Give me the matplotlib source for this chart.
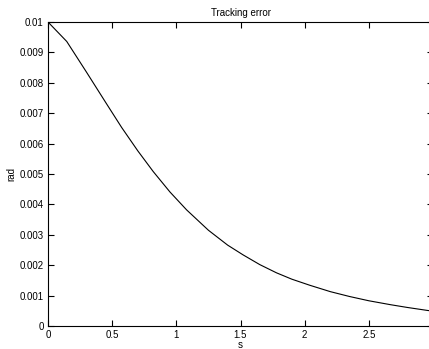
import numpy as np
from matplotlib import pyplot as plt
from matplotlib.ticker import FuncFormatter

# values
t = [0, 0.146, 0.3, 0.45, 0.574, 0.7, 0.82, 0.95, 1.08, 1.25, 1.4, 1.52,
     1.65, 1.78, 1.9, 2.04, 2.2, 2.35, 2.5, 2.67, 2.8, 2.96, 3.0]
err = [0.01000, 0.00936, 0.00835, 0.00735, 0.00653, 0.00576, 0.00508,
       0.00441, 0.00382, 0.00315, 0.00266, 0.00234, 0.00202, 0.00175,
       0.00154, 0.00134, 0.00113, 0.00097, 0.00083, 0.00070, 0.00061,
       0.00051, 0.00049]
xticks = [0, 0.5, 1, 1.5, 2, 2.5, 3]
yticks = [0, 0.001, 0.002, 0.003, 0.004, 0.005, 0.006, 0.007, 0.008, 0.009, 0.01]

plt.rcParams['font.family'] = ['Liberation Sans', 'DejaVu Sans']
plt.rcParams['font.size'] = 7

fig = plt.figure(figsize=(4.29, 3.49), dpi=100)
# right edge of the axes sits just past the picture edge, as in the reference
ax = fig.add_axes([48 / 429, 23 / 349, 385 / 429, 304 / 349])

ax.plot(t, err, color='black', linewidth=0.8)
ax.set_xlim(0, 3)
ax.set_ylim(0, 0.01)
ax.set_xticks(xticks)
ax.set_yticks(yticks)
ax.xaxis.set_major_formatter(FuncFormatter(lambda v, p: '%g' % v))
ax.yaxis.set_major_formatter(FuncFormatter(lambda v, p: '%g' % v))
ax.tick_params(direction='in', length=4, width=0.8, top=True, right=True,
               labelsize=7, pad=3)
for s in ax.spines.values():
    s.set_linewidth(0.8)

ax.set_title('Tracking error', fontsize=7, pad=4)
ax.set_xlabel('s', fontsize=7, labelpad=0)
ax.set_ylabel('rad', fontsize=7, labelpad=2)

fig.savefig('out.png', dpi=100)
